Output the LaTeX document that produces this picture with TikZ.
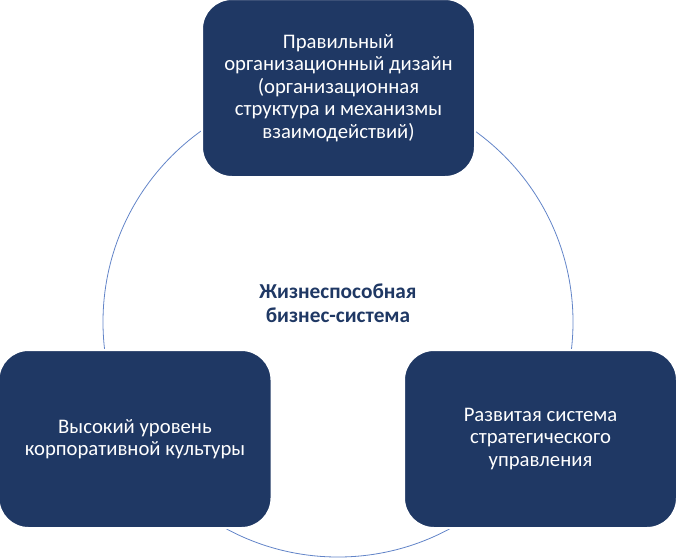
\documentclass[tikz,border=0pt]{standalone}
\usepackage{fontspec}
\setmainfont{Carlito}
\usepackage{tikz}
\definecolor{navy}{RGB}{31,56,100}
\definecolor{ringblue}{RGB}{98,132,200}
\tikzstyle{pillar} = [rectangle, rounded corners=30pt, minimum width=273pt, minimum height=178pt, text centered, align=center, fill=navy, draw=white, line width=2pt, text=white, font=\fontsize{20.7}{22.5}\selectfont]
\tikzstyle{ring} = [circle, draw=ringblue, line width=0.8pt, minimum size=470pt, inner sep=0pt]
\tikzstyle{core} = [text centered, align=center, text=navy, font=\bfseries\fontsize{21.3}{23.5}\selectfont]

\begin{document}
\begin{tikzpicture}[x=1pt, y=-1pt, node distance=351pt]
\useasboundingbox (0,0) rectangle (677,558);
\node (ring) [ring] at (338,322) {};

\node (design) [pillar] at (338.5,88) {Правильный\\организационный дизайн\\(организационная\\структура и механизмы\\взаимодействий)};
\node (culture) [pillar, below of=design, xshift=-203.5pt] {Высокий уровень\\корпоративной культуры};
\node (strategy) [pillar, below of=design, xshift=202pt] {Развитая система\\стратегического\\управления};

\node (core) [core] at (338,303) {Жизнеспособная\\бизнес-система};
\end{tikzpicture}
\end{document}
